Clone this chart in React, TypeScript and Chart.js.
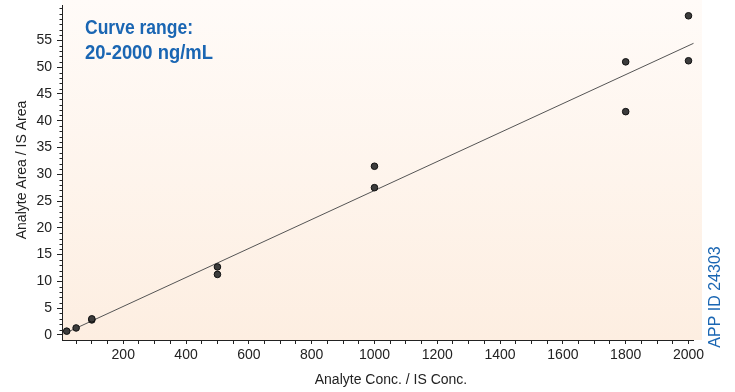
import React, { useEffect, useRef } from "react";
import { Chart, registerables } from "chart.js";

Chart.register(...registerables);

// Calibration points (Analyte Conc. / IS Conc. vs Analyte Area / IS Area)
const calX = [20, 50, 100, 100, 500, 500, 1000, 1000, 1800, 1800, 2000, 2000];
const calY = [0.7, 1.3, 2.8, 3.0, 12.7, 11.3, 31.5, 27.5, 51.0, 41.7, 59.6, 51.2];

// Regression line end points
const fitX = [10, 2016];
const fitY = [0.18, 54.46];

// Axis tick labels
const xLabelValues = [200, 400, 600, 800, 1000, 1200, 1400, 1600, 1800, 2000];
const yLabelValues = [0, 5, 10, 15, 20, 25, 30, 35, 40, 45, 50, 55];
const xMinorStep = 50;
const yMinorStep = 1;

const X_MIN = 5;
const X_MAX = 2043;
const Y_MIN = -0.95;
const Y_MAX = 62.55;
const X_AXIS_END = 2016;
const Y_AXIS_END = 61.6;

const TICK_FONT = "'Liberation Sans', Arial, sans-serif";
const BLUE = "#1a66b3";
const INK = "#222222";

function fitText(ctx: CanvasRenderingContext2D, text: string, x: number, y: number, width: number) {
  const w = ctx.measureText(text).width;
  const s = width / w;
  ctx.save();
  ctx.translate(x, y);
  ctx.scale(s, 1);
  ctx.fillText(text, 0, 0);
  ctx.restore();
}

const decor = {
  id: "decor",
  beforeDraw(chart: any) {
    const { ctx, chartArea } = chart;
    const g = ctx.createLinearGradient(0, chartArea.top, 0, chartArea.bottom);
    g.addColorStop(0, "#fffbf8");
    g.addColorStop(1, "#fdeee1");
    ctx.save();
    ctx.fillStyle = g;
    ctx.fillRect(chartArea.left, chartArea.top, chartArea.right - chartArea.left, chartArea.bottom - chartArea.top);
    ctx.restore();
  },
  afterDraw(chart: any) {
    const { ctx, chartArea } = chart;
    const xs = chart.scales.x;
    const ys = chart.scales.y;
    ctx.save();
    ctx.strokeStyle = INK;
    ctx.lineWidth = 1;
    // axis lines
    const ax = Math.round(chartArea.left) + 0.5;
    const ay = Math.round(chartArea.bottom) + 0.5;
    ctx.beginPath();
    ctx.moveTo(ax, ay);
    ctx.lineTo(ax, Math.round(ys.getPixelForValue(Y_AXIS_END)));
    ctx.moveTo(ax - 0.5, ay);
    ctx.lineTo(Math.round(xs.getPixelForValue(X_AXIS_END)), ay);
    ctx.stroke();
    // y minor ticks
    ctx.beginPath();
    for (let v = 0; v <= Y_AXIS_END; v += yMinorStep) {
      if (yLabelValues.includes(v)) continue;
      const py = Math.round(ys.getPixelForValue(v)) + 0.5;
      ctx.moveTo(ax - 3, py);
      ctx.lineTo(ax, py);
    }
    ctx.stroke();

    // texts
    ctx.fillStyle = BLUE;
    ctx.font = "bold 21px 'Liberation Sans', Arial, sans-serif";
    ctx.textAlign = "left";
    ctx.textBaseline = "alphabetic";
    fitText(ctx, "Curve range:", 85, 34, 108);
    fitText(ctx, "20-2000 ng/mL", 85, 59, 128);

    ctx.fillStyle = INK;
    ctx.font = `14px ${TICK_FONT}`;
    ctx.textAlign = "center";
    ctx.fillText("Analyte Conc. / IS Conc.", 391, 384);

    ctx.save();
    ctx.translate(26, 170);
    ctx.rotate(-Math.PI / 2);
    ctx.textBaseline = "alphabetic";
    ctx.fillText("Analyte Area / IS Area", 0, 0);
    ctx.restore();

    ctx.save();
    ctx.translate(716, 297);
    ctx.rotate(-Math.PI / 2);
    ctx.fillStyle = BLUE;
    ctx.font = `16px ${TICK_FONT}`;
    ctx.textAlign = "center";
    ctx.textBaseline = "middle";
    ctx.fillText("APP ID 24303", 0, 0);
    ctx.restore();

    ctx.restore();
  },
};

export default function App() {
  const ref = useRef<HTMLCanvasElement | null>(null);
  useEffect(() => {
    document.body.style.margin = "0";
    const canvas = ref.current;
    if (!canvas) return;
    const chart = new Chart(canvas, {
      type: "scatter",
      data: {
        datasets: [
          {
            label: "Fit",
            type: "line",
            data: fitX.map((x, i) => ({ x, y: fitY[i] })),
            borderColor: "#555555",
            borderWidth: 1,
            pointRadius: 0,
            showLine: true,
            clip: false,
            order: 1,
          } as any,
          {
            label: "Calibrators",
            data: calX.map((x, i) => ({ x, y: calY[i] })),
            backgroundColor: "#3c3c3c",
            borderColor: "#111111",
            borderWidth: 1,
            pointRadius: 3.3,
            clip: false,
            order: 0,
          },
        ],
      },
      options: {
        responsive: false,
        animation: false,
        devicePixelRatio: 1,
        layout: { autoPadding: false, padding: { left: 0, right: 33, top: 0, bottom: 0 } },
        plugins: { legend: { display: false }, tooltip: { enabled: false } },
        scales: {
          x: {
            type: "linear",
            min: X_MIN,
            max: X_MAX,
            afterBuildTicks: (scale: any) => {
              const t: any[] = [];
              for (let v = xMinorStep; v <= X_AXIS_END; v += xMinorStep) t.push({ value: v });
              scale.ticks = t;
            },
            afterFit: (scale: any) => {
              scale.height = 52;
              scale.paddingLeft = 0;
              scale.paddingRight = 0;
            },
            ticks: {
              autoSkip: false,
              maxRotation: 0,
              padding: 3,
              color: INK,
              font: { family: TICK_FONT, size: 14 },
              callback: (v: any) => (xLabelValues.includes(Number(v)) ? String(v) : ""),
            },
            grid: { drawOnChartArea: false, drawTicks: true, tickLength: 4, tickColor: INK },
            border: { display: false },
          },
          y: {
            type: "linear",
            min: Y_MIN,
            max: Y_MAX,
            afterBuildTicks: (scale: any) => {
              scale.ticks = yLabelValues.map((v) => ({ value: v }));
            },
            afterFit: (scale: any) => {
              scale.width = 62;
              scale.paddingTop = 0;
              scale.paddingBottom = 0;
            },
            ticks: {
              autoSkip: false,
              padding: 5,
              color: INK,
              font: { family: TICK_FONT, size: 14 },
              callback: (v: any) => String(v),
            },
            grid: { drawOnChartArea: false, drawTicks: true, tickLength: 5, tickColor: INK },
            border: { display: false },
          },
        },
      },
      plugins: [decor],
    });
    return () => chart.destroy();
  }, []);
  return <canvas ref={ref} width={735} height={392} style={{ display: "block", width: 735, height: 392 }} />;
}
